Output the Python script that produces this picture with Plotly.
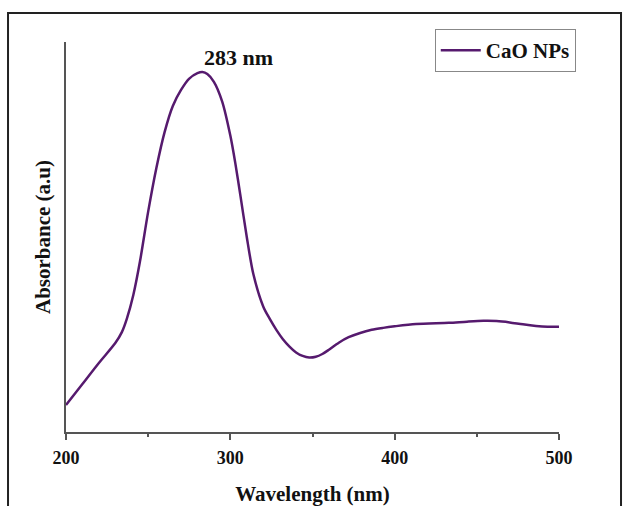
import plotly.graph_objects as go

wavelength = [200, 210, 220, 230, 234, 237, 241, 245, 250, 255, 260, 265, 270, 275,
              280, 283, 286, 290, 295, 300, 303, 306, 310, 314, 320, 324, 328, 332,
              336, 340, 344, 348, 352, 356, 360, 366, 372, 379, 386, 393, 400, 413,
              433, 444, 454, 462, 470, 478, 486, 493, 500]
absorbance = [0.069, 0.123, 0.177, 0.228, 0.256, 0.290, 0.352, 0.437, 0.565, 0.677,
              0.769, 0.836, 0.877, 0.906, 0.920, 0.923, 0.918, 0.898, 0.848, 0.760,
              0.690, 0.610, 0.500, 0.405, 0.322, 0.290, 0.262, 0.238, 0.219, 0.204,
              0.195, 0.191, 0.193, 0.200, 0.211, 0.229, 0.243, 0.254, 0.262, 0.267,
              0.271, 0.277, 0.280, 0.283, 0.285, 0.2845, 0.281, 0.276, 0.272, 0.270, 0.270]
x_ticks = [200, 300, 400, 500]
peak_label = "283 nm"
peak_wavelength = 283
series_name = "CaO NPs"

FONT = "Liberation Serif"
CURVE = "#561a6e"
AXIS = "#555555"

fig = go.Figure()
fig.add_trace(go.Scatter(
    x=wavelength, y=absorbance, mode="lines", name=f"<b>{series_name}</b>",
    line=dict(color=CURVE, width=2.5, shape="spline", smoothing=0.8),
))

peak_y = absorbance[wavelength.index(peak_wavelength)]
fig.add_annotation(
    x=peak_wavelength, y=peak_y, text=f"<b>{peak_label}</b>", showarrow=False,
    xanchor="left", yanchor="bottom", xshift=0, yshift=0,
    font=dict(family=FONT, size=22, color="#111111"),
)

# outer frame around the whole figure
fig.add_shape(type="rect", xref="paper", yref="paper",
              x0=-0.1176, x1=1.1258, y0=-0.25, y1=1.0744,
              line=dict(color="#222222", width=2), fillcolor="rgba(0,0,0,0)")

fig.update_layout(
    width=623, height=506,
    margin=dict(l=66, r=64, t=42, b=74, autoexpand=False),
    paper_bgcolor="white", plot_bgcolor="white",
    showlegend=True,
    legend=dict(
        x=0.748, y=1.033, xanchor="left", yanchor="top",
        bgcolor="white", bordercolor="#888888", borderwidth=1,
        font=dict(family=FONT, size=21, color="#111111"),
        itemwidth=40,
    ),
    xaxis=dict(
        range=[200, 500], tickvals=x_ticks, ticktext=[f"<b>{v}</b>" for v in x_ticks],
        showline=True, linecolor=AXIS, linewidth=2, mirror=False,
        ticks="outside", ticklen=6, tickwidth=2, tickcolor=AXIS,
        minor=dict(ticks="outside", ticklen=3, tickwidth=2, tickcolor=AXIS, dtick=50, tick0=200, showgrid=False),
        showgrid=False, zeroline=False, ticklabelstandoff=2, automargin=False,
        tickfont=dict(family=FONT, size=18, color="#111111"),
        title=dict(text="<b>Wavelength (nm)</b>", standoff=22,
                   font=dict(family=FONT, size=21, color="#111111")),
    ),
    yaxis=dict(
        range=[0, 1], showline=True, linecolor=AXIS, linewidth=2, automargin=False,
        showticklabels=False, ticks="", showgrid=False, zeroline=False,
        title=dict(text="<b>Absorbance (a.u)</b>", standoff=8,
                   font=dict(family=FONT, size=21, color="#111111")),
    ),
)

fig.write_html("out.html", config={"displayModeBar": False},
               post_script="document.body.style.margin='0';")
